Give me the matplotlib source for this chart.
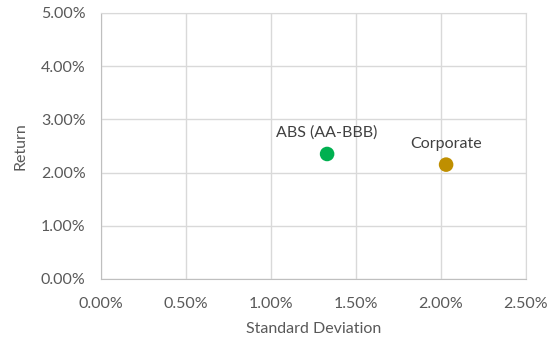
import matplotlib
matplotlib.use("Agg")
import matplotlib.pyplot as plt
from matplotlib.ticker import FuncFormatter, MultipleLocator

# data (percent)
names = ["ABS (AA-BBB)", "Corporate"]
std_dev = [1.33, 2.03]
returns = [2.35, 2.15]
colors = ["#00B050", "#BF8F00"]

plt.rcParams['font.family'] = ['Lato', 'DejaVu Sans']
txt = "#595959"
grid = "#D9D9D9"

fig = plt.figure(figsize=(5.58, 3.39), dpi=100)
ax = fig.add_axes([101/558, 1 - 279/339, 425/558, 266/339])

ax.scatter(std_dev, returns, s=110, c=colors, zorder=3, linewidths=0)
for x, y, n in zip(std_dev, returns, names):
    ax.annotate(n, (x, y), xytext=(0, 10), textcoords="offset points",
                ha="center", va="bottom", fontsize=11.5, color="#404040")

ax.set_xlim(0, 2.5)
ax.set_ylim(0, 5)
ax.xaxis.set_major_locator(MultipleLocator(0.5))
ax.yaxis.set_major_locator(MultipleLocator(1))
fmt = FuncFormatter(lambda v, p: "%.2f%%" % v)
ax.xaxis.set_major_formatter(fmt)
ax.yaxis.set_major_formatter(fmt)
ax.grid(True, color=grid, linewidth=1)
ax.set_axisbelow(True)
for s in ax.spines.values():
    s.set_color(grid)
ax.spines['left'].set_color("#BFBFBF")
ax.spines['bottom'].set_color("#BFBFBF")
ax.tick_params(length=0, labelsize=11.5, labelcolor=txt)
ax.tick_params(axis='x', pad=13)
ax.tick_params(axis='y', pad=11)
ax.set_xlabel("Standard Deviation", fontsize=11.5, color=txt, labelpad=8)
ax.set_ylabel("Return", fontsize=11.5, color=txt, labelpad=10)

fig.savefig("out.png", dpi=100)
